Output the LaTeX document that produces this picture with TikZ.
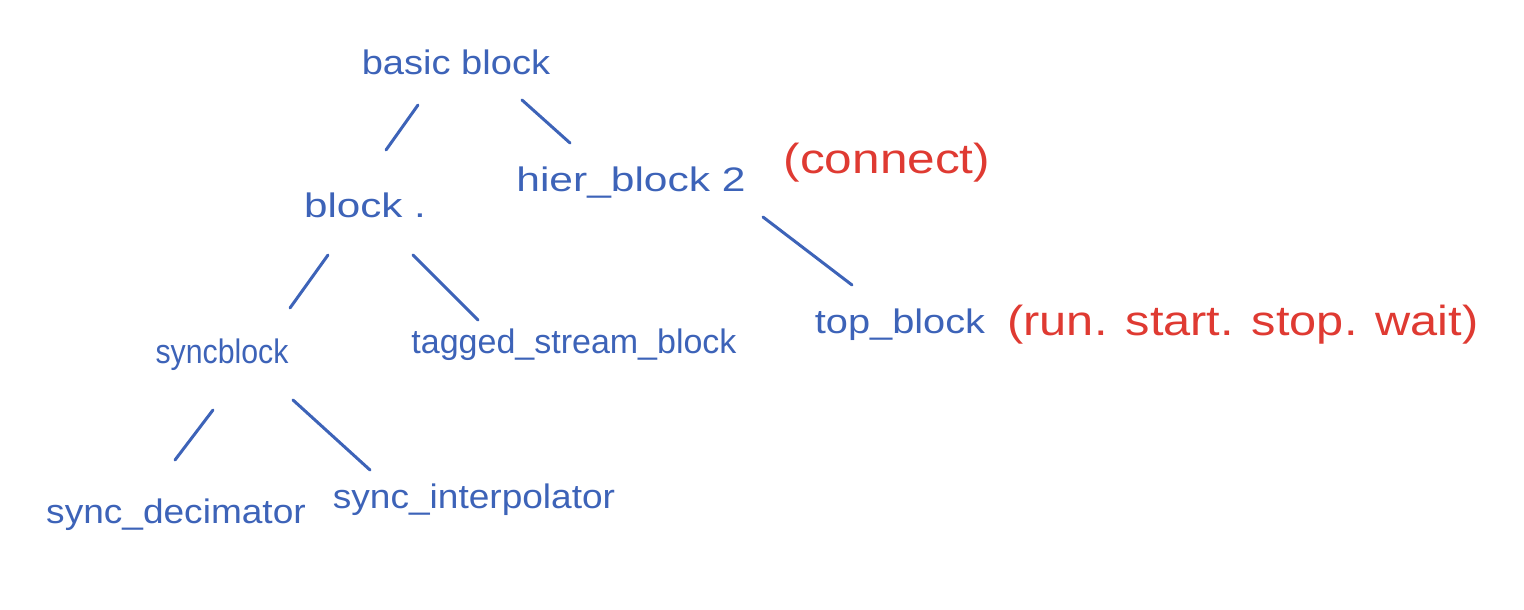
\documentclass[tikz,border=0pt]{standalone}
\usepackage{fontspec}
\setmainfont{Liberation Sans}
\definecolor{inkblue}{HTML}{3D63B8}
\definecolor{inkred}{HTML}{DF3A32}
\begin{document}
\begin{tikzpicture}[x=1pt,y=-1pt,
  lbl/.style={inner sep=0pt, text=inkblue, font=\fontsize{34}{40}\selectfont},
  note/.style={inner sep=0pt, text=inkred, font=\fontsize{42}{48}\selectfont},
  edge/.style={draw=inkblue, line width=3pt, line cap=round}]
\useasboundingbox (0,0) rectangle (1524,610);
\node[lbl] (basic) at (456,62) {\scalebox{1.12}[1]{basic block}};
\node[lbl] (block) at (365,205) {\scalebox{1.24}[1]{block .}};
\node[lbl] (hier) at (631,183) {\scalebox{1.25}[1]{hier\_block 2}};
\node[note] (connect) at (887,163) {\scalebox{1.18}[1]{(connect)}};
\node[lbl] (sync) at (222,355) {\scalebox{0.89}[1]{syncblock}};
\node[lbl] (tagged) at (574,345) {tagged\_stream\_block};
\node[lbl] (top) at (900,325) {\scalebox{1.17}[1]{top\_block}};
\node[note] (run) at (1243,325) {\scalebox{1.16}[1]{(run. start. stop. wait)}};
\node[lbl] (dec) at (176,515) {\scalebox{1.09}[1]{sync\_decimator}};
\node[lbl] (interp) at (474,500) {\scalebox{1.09}[1]{sync\_interpolator}};
\coordinate (a1) at (418,105); \coordinate (a2) at (386,150);
\coordinate (b1) at (522,100); \coordinate (b2) at (570,143);
\coordinate (c1) at (328,255); \coordinate (c2) at (290,308);
\coordinate (d1) at (413,255); \coordinate (d2) at (478,320);
\coordinate (e1) at (763,217); \coordinate (e2) at (852,285);
\coordinate (f1) at (213,410); \coordinate (f2) at (175,460);
\coordinate (g1) at (293,400); \coordinate (g2) at (370,470);
\draw[edge] (a1) -- (a2);
\draw[edge] (b1) -- (b2);
\draw[edge] (c1) -- (c2);
\draw[edge] (d1) -- (d2);
\draw[edge] (e1) -- (e2);
\draw[edge] (f1) -- (f2);
\draw[edge] (g1) -- (g2);
\end{tikzpicture}
\end{document}
